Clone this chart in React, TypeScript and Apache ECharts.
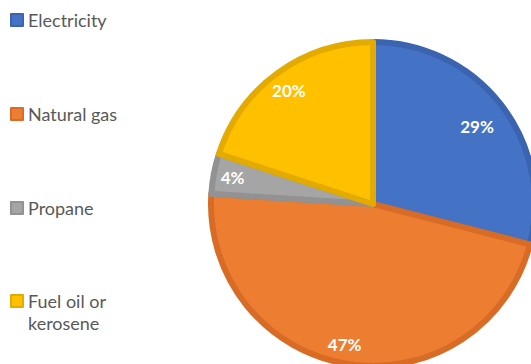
import React, { useEffect, useRef } from "react";
import * as echarts from "echarts";

const categories = ["Electricity", "Natural gas", "Propane", "Fuel oil or\nkerosene"];
const values = [29, 47, 4, 20];
const fillColors = ["#4472C4", "#ED7D31", "#A5A5A5", "#FFC000"];
const borderColors = ["#3A63B0", "#D86C26", "#929292", "#E3AA00"];
const legendTops = [9, 103, 197, 268];

export default function App() {
  const ref = useRef<HTMLDivElement>(null);
  useEffect(() => {
    document.body.style.margin = "0";
    const chart = echarts.init(ref.current!, undefined, { renderer: "svg" });
    const font = "Lato, 'Open Sans', sans-serif";
    const pieData = categories.map((name, i) => ({
      name,
      value: values[i],
      itemStyle: { color: fillColors[i], borderColor: borderColors[i] },
    }));
    const labelOffsets: any[] = [[-9, 10], [-6, -1], [0, 0], [0, 2]];
    const labelData = categories.map((name, i) => ({
      name,
      value: values[i],
      label: { offset: labelOffsets[i] },
    }));
    chart.setOption({
      animation: false,
      legend: categories.map((name, i) => ({
        data: [name],
        orient: "vertical",
        left: 10,
        top: legendTops[i],
        padding: 0,
        itemWidth: 12,
        itemHeight: 12,
        itemGap: 5,
        icon: "rect",
        selectedMode: false,
        formatter: (n: string) => (n.indexOf("\n") >= 0 ? "\n" + n : n),
        textStyle: {
          color: "#595959",
          fontSize: 18,
          fontFamily: font,
          lineHeight: 22,
        },
      })),
      series: [
        {
          type: "pie",
          center: [373, 204],
          radius: [0, 162],
          startAngle: 90,
          clockwise: true,
          silent: true,
          label: { show: false },
          labelLine: { show: false },
          itemStyle: { borderWidth: 6, borderJoin: "round" },
          data: pieData,
        },
        {
          type: "pie",
          center: [373, 204],
          radius: [0, 280],
          startAngle: 90,
          clockwise: true,
          silent: true,
          z: 5,
          itemStyle: { color: "rgba(0,0,0,0)", borderWidth: 0 },
          label: {
            show: true,
            position: "inside",
            formatter: (p: any) => p.value + "%",
            color: "#ffffff",
            fontSize: 17,
            fontWeight: "bold",
            fontFamily: font,
          },
          labelLine: { show: false },
          data: labelData,
        },
      ],
    });
    return () => chart.dispose();
  }, []);
  return (
    <div
      ref={ref}
      style={{ position: "fixed", left: 0, top: 0, width: 531, height: 364, background: "#ffffff" }}
    />
  );
}
